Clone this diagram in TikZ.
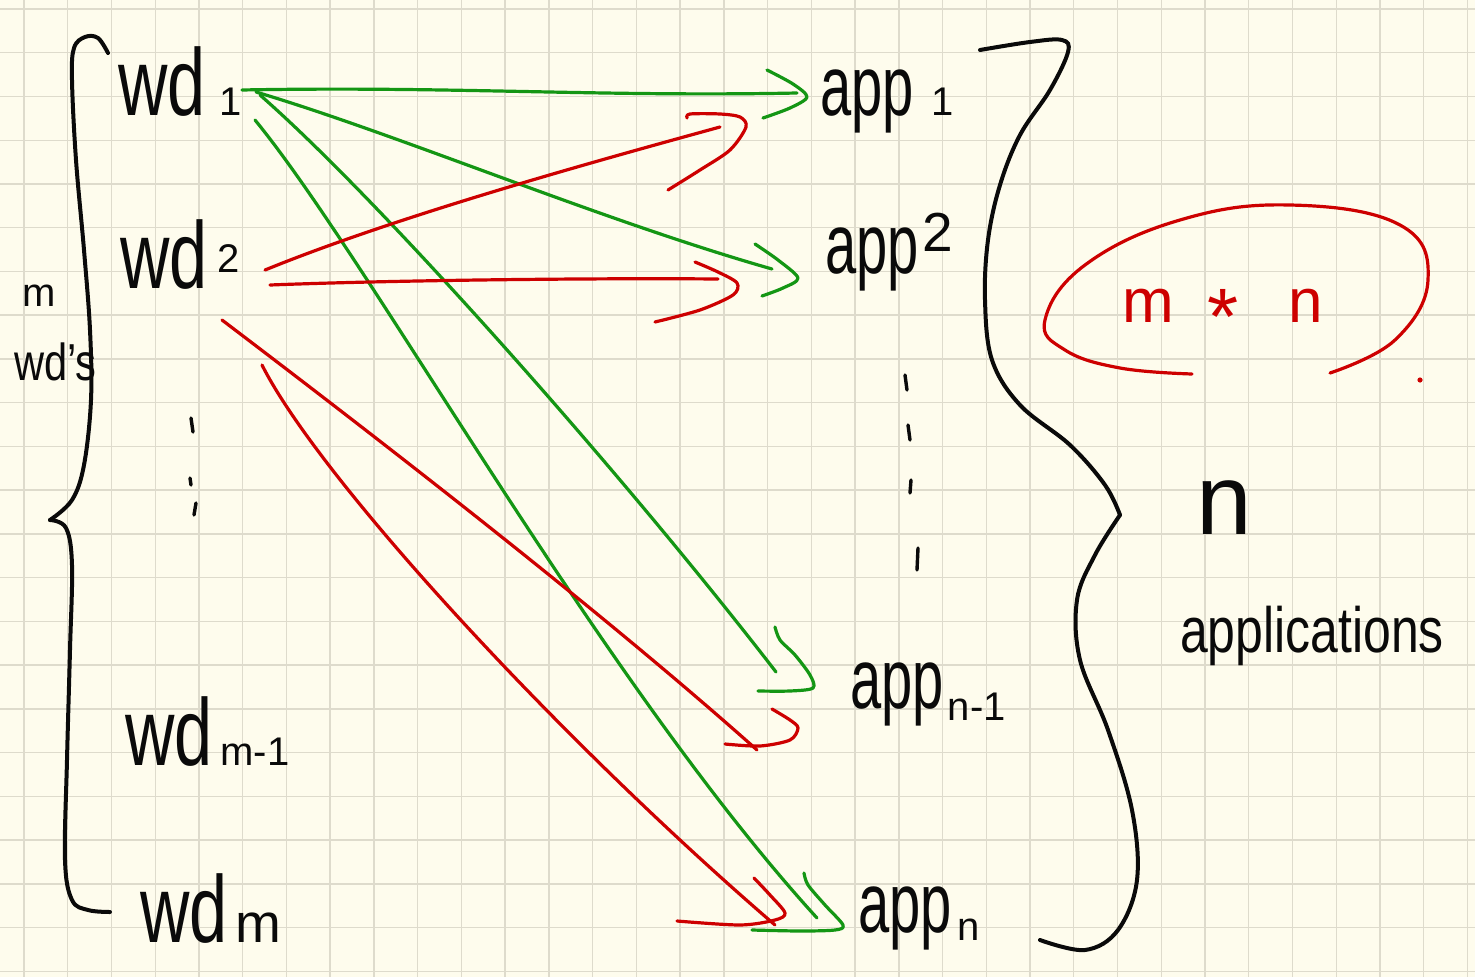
\documentclass[tikz,border=0pt]{standalone}
\usepackage{fontspec}
\setmainfont{Liberation Sans}
\usepackage{graphicx}
\definecolor{paper}{RGB}{254,252,237}
\definecolor{gridc}{RGB}{222,219,204}
\definecolor{ink}{RGB}{10,10,10}
\definecolor{gink}{RGB}{20,150,20}
\definecolor{rink}{RGB}{205,0,0}
\newcommand\smtxt[1]{{\fontsize{40}{40}\selectfont #1}}
\newcommand\condx[2]{\scalebox{#1}[1]{#2}}
\begin{document}
\begin{tikzpicture}[x=1pt,y=-1pt,
  lbl/.style={inner sep=0pt, anchor=base west, font=\fontsize{72}{72}\selectfont, text=ink},
  big/.style={font=\fontsize{95}{95}\selectfont},
  appf/.style={font=\fontsize{85}{85}\selectfont},
  brace/.style={draw=ink, line width=4pt, line cap=round, line join=round},
  dotmark/.style={draw=ink, line width=3.4pt, line cap=round},
  gline/.style={draw=gink, line width=3.2pt, line cap=round, line join=round},
  rline/.style={draw=rink, line width=3.2pt, line cap=round, line join=round},
  gridline/.style={draw=gridc, line width=1.4pt}]
\fill[paper] (0,0) rectangle (1475,977);
\useasboundingbox (0,0) rectangle (1475,977);
\foreach \i in {0,...,33} \draw[gridline] ({24+\i*43.74},0) -- ({24+\i*43.74},977);
\foreach \j in {0,...,22} \draw[gridline] (0,{9+\j*43.74}) -- (1475,{9+\j*43.74});

% left labels
\node[lbl, big] (wd1) at (118,115) {\condx{0.72}{wd}\hspace{14pt}\smtxt{1}};
\node[lbl, big] (wd2) at (120,288) {\condx{0.72}{wd}\hspace{10pt}\raisebox{16pt}{\smtxt{2}}};
\node[lbl, big] (wdm1) at (125,765) {\condx{0.72}{wd}\hspace{8pt}\smtxt{m-1}};
\node[lbl, big] (wdm) at (140,942) {\condx{0.72}{wd}\hspace{8pt}{\fontsize{55}{55}\selectfont m}};
\node[lbl, font=\fontsize{40}{40}\selectfont] (mlab) at (22,306) {m};
\node[lbl, font=\fontsize{52}{52}\selectfont] (wds) at (14,380) {\condx{0.8}{wd's}};

% right labels
\node[lbl, appf] (app1) at (820,115) {\condx{0.66}{app}\hspace{18pt}\smtxt{1}};
\node[lbl, appf] (app2) at (825,273) {\condx{0.66}{app}\hspace{4pt}\raisebox{22pt}{{\fontsize{55}{55}\selectfont 2}}};
\node[lbl, appf] (appn1) at (850,708) {\condx{0.66}{app}\hspace{4pt}\raisebox{-12pt}{\smtxt{n-1}}};
\node[lbl, appf] (appn) at (858,932) {\condx{0.66}{app}\hspace{6pt}\raisebox{-8pt}{\smtxt{n}}};

\node[lbl, font=\fontsize{100}{100}\selectfont] (nlab) at (1196,534) {n};
\node[lbl, font=\fontsize{64}{64}\selectfont] (apps) at (1180,652) {\condx{0.78}{applications}};
\node[lbl, font=\fontsize{62}{62}\selectfont, text=rink] (mn) at (1122,322) {m\hspace{34pt}\raisebox{-22pt}{{\fontsize{80}{80}\selectfont *}}\hspace{50pt}n};

% braces
\draw[brace] plot[smooth, tension=0.6] coordinates {(108,53) (98,38) (85,37) (74,48) (72,80) (76,160) (84,250) (90,330) (91,400) (84,465) (72,500) (50,520)};
\draw[brace] plot[smooth, tension=0.6] coordinates {(50,520) (66,528) (72,565) (70,650) (67,760) (65,860) (72,900) (88,910) (110,912)};
\draw[brace] plot[smooth, tension=0.6] coordinates {(980,50) (1030,42) (1062,40) (1068,52) (1050,90) (1020,135) (1000,185) (988,240) (985,300) (992,360) (1020,405) (1070,445) (1105,485) (1120,515)};
\draw[brace] plot[smooth, tension=0.6] coordinates {(1120,515) (1095,555) (1077,600) (1080,660) (1108,730) (1132,810) (1137,880) (1118,930) (1085,950) (1040,940)};

% dots
\draw[dotmark] (191,418) -- (193,432);
\draw[dotmark] (190,478) -- (191,485);
\draw[dotmark] (196,503) -- (194,515);
\draw[dotmark] (905,375) -- (907,390);
\draw[dotmark] (908,425) -- (910,440);
\draw[dotmark] (911,480) -- (910,493);
\draw[dotmark] (918,548) -- (917,570);

% ellipse
\draw[rline] plot[smooth, tension=0.7] coordinates {(1330,373) (1395,340) (1428,280) (1400,225) (1290,205) (1180,220) (1085,265) (1045,320) (1065,350) (1120,368) (1192,374)};
\fill[rink] (1420,380) circle (2.6);

% connector ends
\coordinate (g1s) at (242,90);  \coordinate (g1e) at (797,93);
\coordinate (g2s) at (256,92);  \coordinate (g2e) at (772,269);
\coordinate (g3s) at (260,95);  \coordinate (g3e) at (776,672);
\coordinate (g4s) at (255,120); \coordinate (g4e) at (817,918);
\coordinate (r1s) at (265,270); \coordinate (r1e) at (720,127);
\coordinate (r2s) at (270,285); \coordinate (r2e) at (718,279);
\coordinate (r3s) at (222,320); \coordinate (r3e) at (757,750);
\coordinate (r4s) at (262,365); \coordinate (r4e) at (775,925);

% green connectors
\draw[gline] (g1s) .. controls (450,86) and (600,97) .. (g1e);
\draw[gline] (g2s) .. controls (400,135) and (600,220) .. (g2e);
\draw[gline] (g3s) .. controls (380,200) and (620,470) .. (g3e);
\draw[gline] (g4s) .. controls (370,260) and (600,680) .. (g4e);
% red connectors
\draw[rline] (r1s) .. controls (400,215) and (600,160) .. (r1e);
\draw[rline] (r2s) .. controls (400,280) and (600,278) .. (r2e);
\draw[rline] (r3s) .. controls (380,440) and (600,610) .. (r3e);
\draw[rline] (r4s) .. controls (320,480) and (560,740) .. (r4e);

% hand-drawn heads
\draw[gline] plot[smooth] coordinates {(767,70) (793,84) (807,97) (790,108) (763,118)};
\draw[gline] plot[smooth] coordinates {(755,244) (778,260) (798,278) (783,288) (762,296)};
\draw[gline] plot[smooth] coordinates {(775,627) (780,640) (795,655) (810,675) (813,688) (790,691) (758,691)};
\draw[gline] plot[smooth] coordinates {(804,873) (808,885) (825,905) (843,925) (835,930) (800,931) (752,930)};
\draw[rline] plot[smooth] coordinates {(687,118) (690,114) (720,114) (740,117) (746,127) (730,150) (700,170) (668,190)};
\draw[rline] plot[smooth] coordinates {(695,262) (718,272) (737,283) (733,295) (700,310) (655,322)};
\draw[rline] plot[smooth] coordinates {(772,709) (790,720) (798,728) (790,740) (760,746) (725,744)};
\draw[rline] plot[smooth] coordinates {(754,878) (770,895) (785,913) (775,920) (740,925) (677,921)};
\end{tikzpicture}
\end{document}
